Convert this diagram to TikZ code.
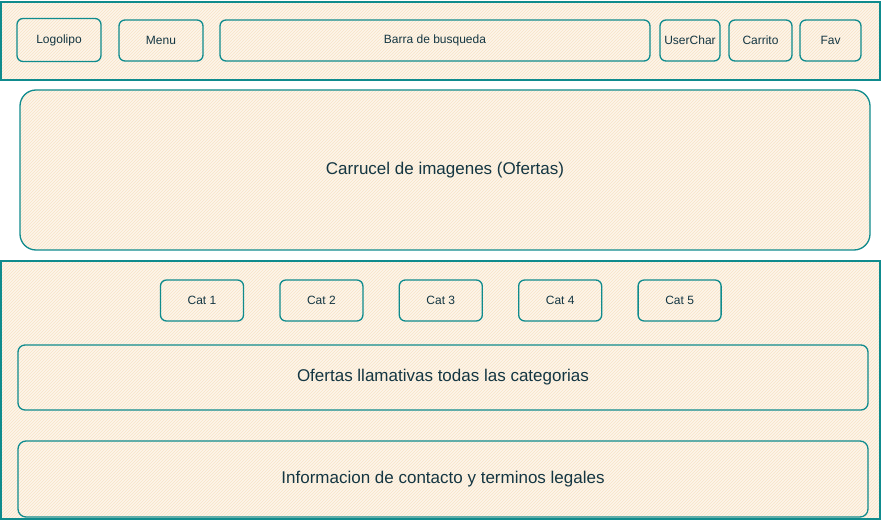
\documentclass[tikz,border=0pt]{standalone}
\usepackage{fontspec}
\setmainfont{Liberation Sans}
\usepackage{tikz}
\usetikzlibrary{patterns}

\definecolor{boxfill}{HTML}{FDF5EA}
\definecolor{boxhatch}{HTML}{F8E3C6}
\definecolor{boxline}{HTML}{0F8B8D}
\definecolor{boxtext}{HTML}{143642}

\begin{document}
\begin{tikzpicture}[x=1pt, y=-1pt]
\def\smallfont{\fontsize{12}{14}\selectfont}
\def\bigfont{\fontsize{17}{20}\selectfont}
\tikzset{
  panel/.style={draw=boxline, line width=1.3pt, inner sep=0pt, outer sep=0pt,
    preaction={fill=boxfill}, pattern=north east lines, pattern color=boxhatch},
  btn/.style={panel, rounded corners=6pt, text=boxtext, font=\smallfont},
  wide/.style={panel, rounded corners=8pt, text=boxtext, font=\bigfont}
}
\useasboundingbox (0,0) rectangle (881,521);

\begin{scope} % HEADER
\node [panel, minimum width=879, minimum height=78] (header) at (440.5, 41) {};

\node [btn, minimum width=84, minimum height=43] (logo) at (59, 40) {Logolipo};
\node [btn, minimum width=84, minimum height=41] (menu) at (161, 40.5) {Menu};
\node [btn, minimum width=430, minimum height=41] (search) at (435, 40.5) {Barra de busqueda};
\node [btn, minimum width=60, minimum height=41] (user) at (690, 40.5) {UserChar};
\node [btn, minimum width=63, minimum height=41] (cart) at (760.5, 40.5) {Carrito};
\node [btn, minimum width=61, minimum height=41] (fav) at (830.5, 40.5) {Fav};
\end{scope}

\begin{scope} % CAROUSEL
\node [wide, rounded corners=16pt, minimum width=850, minimum height=160] (carousel) at (445, 170) {Carrucel de imagenes (Ofertas)};
\end{scope}

\begin{scope} % BODY
\node [panel, minimum width=879, minimum height=258] (body) at (440.5, 390) {};

\foreach \i in {1,...,5}
  \node [btn, minimum width=83, minimum height=41] (cat\i) at ({202+119.4*(\i-1)}, 300.5) {Cat \i};

\node [wide, rounded corners=7pt, minimum width=850, minimum height=65] (offers) at (443, 377.5) {Ofertas llamativas todas las categorias};
\node [wide, minimum width=850, minimum height=76] (info) at (443, 479) {Informacion de contacto y terminos legales};
\end{scope}
\end{tikzpicture}
\end{document}
